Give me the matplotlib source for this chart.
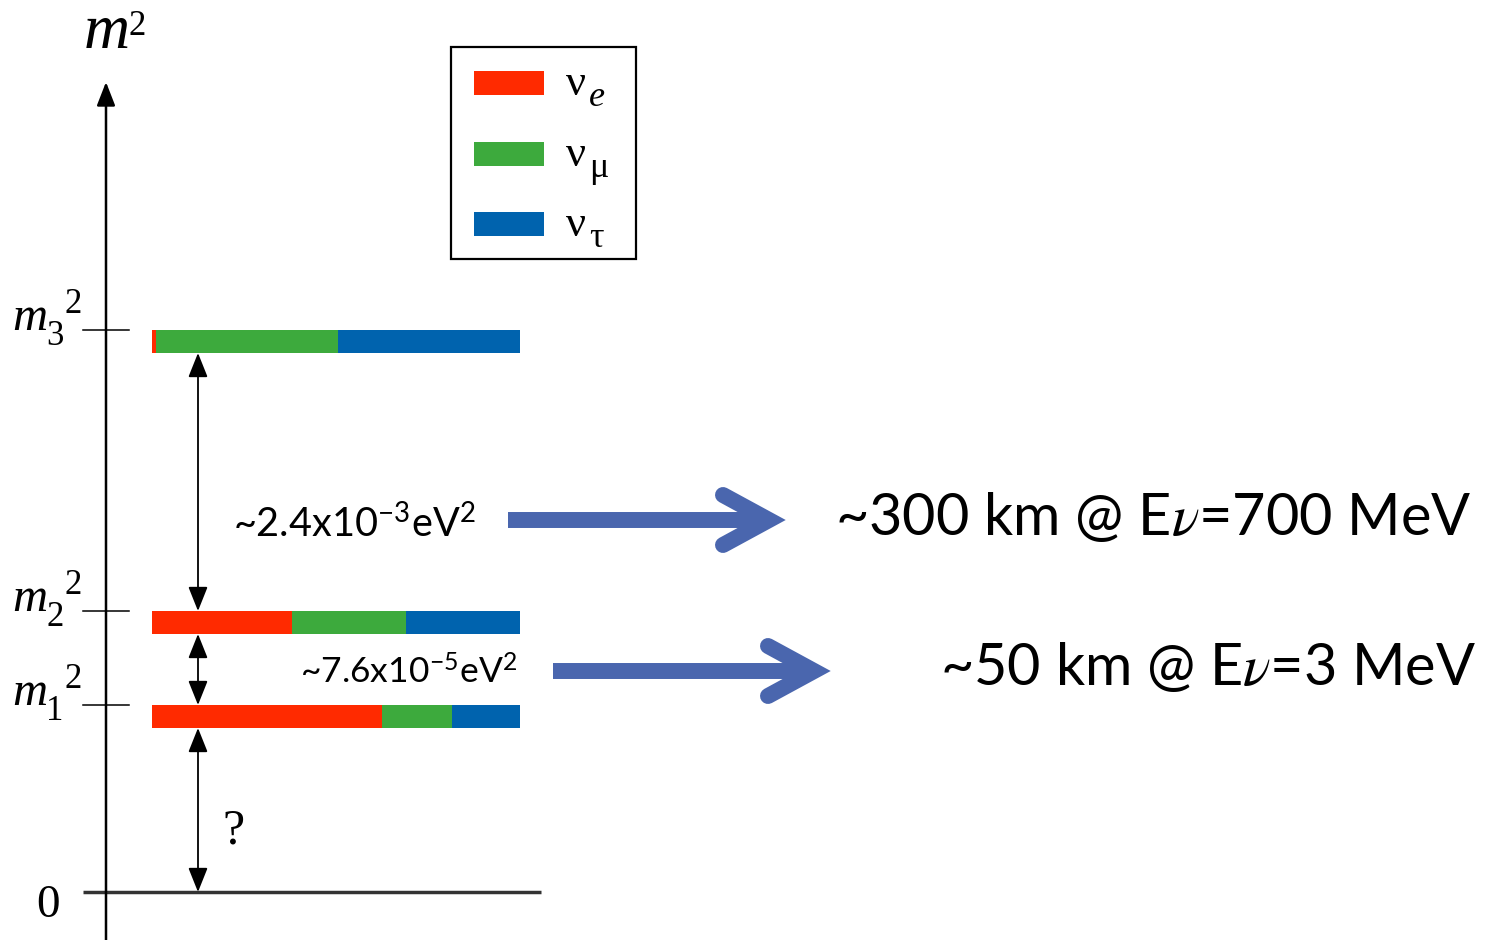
import matplotlib
matplotlib.use("Agg")
import matplotlib.pyplot as plt
from matplotlib.patches import Rectangle, FancyArrowPatch
import numpy as np

# ---- data: flavour content of each mass eigenstate ----
states = ["m1", "m2", "m3"]
flavours = ["e", "mu", "tau"]
frac_e = [0.625, 0.38, 0.01]
frac_mu = [0.19, 0.31, 0.495]
frac_tau = [0.185, 0.31, 0.495]

dm2_labels = ["~2.4x10$^{\\mathregular{-3}}$eV$^{\\mathregular{2}}$",
              "~7.6x10$^{\\mathregular{-5}}$eV$^{\\mathregular{2}}$"]
baseline_labels = ["~300 km @ E$\\nu$=700 MeV",
                   "~50 km @ E$\\nu$=3 MeV"]

# ---- styling / layout (figure drawn in pixel-like units) ----
W, H = 1486, 940
flavour_colors = ["#FF2A00", "#3DAA3D", "#0063AE"]
arrow_blue = "#4A66AE"
SANS = ["Lato", "DejaVu Sans"]
SERIF = ["Liberation Serif", "DejaVu Serif"]
plt.rcParams["mathtext.fontset"] = "stix"

level_y = {"m1": 705, "m2": 611, "m3": 330}   # tick positions of the levels
zero_y = 892
axis_x = 106
bar_x0, bar_w, bar_h = 152, 368, 23
gap_x = 198

fig = plt.figure(figsize=(W / 100, H / 100), dpi=100)
ax = fig.add_axes([0, 0, 1, 1])
ax.set_xlim(0, W)
ax.set_ylim(H, 0)
ax.axis("off")

# vertical m^2 axis with arrow
ax.annotate("", xy=(axis_x, 82), xytext=(axis_x, H + 5),
            arrowprops=dict(arrowstyle="-|>,head_length=0.9,head_width=0.35",
                            color="black", lw=1.8, mutation_scale=16,
                            shrinkA=0, shrinkB=0))
ax.text(84, 48, "m", fontsize=46, style="italic", family=SERIF, va="baseline")
ax.text(128, 35, "2", fontsize=25, family=SERIF, va="baseline")

# zero line
ax.plot([83, 541], [zero_y, zero_y], color="#333333", lw=2.5, solid_capstyle="butt")
ax.text(48, 917, "0", fontsize=34, family=SERIF, ha="center", va="baseline")

# stacked flavour bars for each mass state
fr = np.array([frac_e, frac_mu, frac_tau])
lefts = np.vstack([np.zeros(len(states)), np.cumsum(fr, axis=0)[:-1]])
centers = [level_y[s] + bar_h / 2 for s in states]
for k in range(len(flavours)):
    ax.barh(centers, fr[k] * bar_w, left=bar_x0 + lefts[k] * bar_w,
            height=bar_h, color=flavour_colors[k], linewidth=0)

# level ticks and labels
for i, s in enumerate(states):
    y = level_y[s]
    ax.plot([83, 129], [y, y], color="black", lw=1.1)
    ax.text(12, y, "m", fontsize=35, style="italic", family=SERIF, va="baseline")
    ax.text(46, y + 15, s[1], fontsize=25, family=SERIF, va="baseline")
    ax.text(65, y - 17, "2", fontsize=25, family=SERIF, va="baseline")

# double-headed splitting arrows
spans = [(level_y["m3"] + bar_h, level_y["m2"]),
         (level_y["m2"] + bar_h, level_y["m1"]),
         (level_y["m1"] + bar_h, zero_y)]
for y0, y1 in spans:
    ax.add_patch(FancyArrowPatch((gap_x, y0), (gap_x, y1),
                 arrowstyle="<|-|>,head_length=0.75,head_width=0.3",
                 mutation_scale=20, color="black", lw=1.3,
                 shrinkA=0, shrinkB=0))
ax.text(222, 844, "?", fontsize=36, family=SERIF, va="baseline")

# legend box
ax.add_patch(Rectangle((451, 47), 185, 212, fill=False, ec="black", lw=1.6))
leg_y = [71, 142, 212]
leg_sub = ["e", "\u03bc", "\u03c4"]
for k in range(3):
    ax.add_patch(Rectangle((474, leg_y[k]), 70, 24, color=flavour_colors[k], lw=0))
    ax.text(566, leg_y[k] + 24, "\u03bd", fontsize=32, family=SERIF, va="baseline")
    ax.text(589, leg_y[k] + 35, leg_sub[k], fontsize=26, family=SERIF,
            style="italic" if k == 0 else "normal", va="baseline")

# mass-splitting labels
ax.text(233, 537, dm2_labels[0], fontsize=28.5, family=SANS, va="baseline")
ax.text(300, 683, dm2_labels[1], fontsize=25.5, family=SANS, va="baseline")

# blue arrows pointing to the oscillation baselines
def chevron_arrow(x0, yc, tip):
    ax.plot([x0, tip - 4], [yc, yc], color=arrow_blue, lw=11.5,
            solid_capstyle="butt")
    ax.plot([tip - 46, tip, tip - 46], [yc - 25, yc, yc + 25], color=arrow_blue,
            lw=11.5, solid_capstyle="round", solid_joinstyle="miter")

chevron_arrow(508, 520, 769)
chevron_arrow(553, 671, 814)

ax.text(835, 535, baseline_labels[0], fontsize=41.5, family=SANS, va="baseline")
ax.text(940, 685, baseline_labels[1], fontsize=41.5, family=SANS, va="baseline")

fig.savefig("out.png", dpi=100)
